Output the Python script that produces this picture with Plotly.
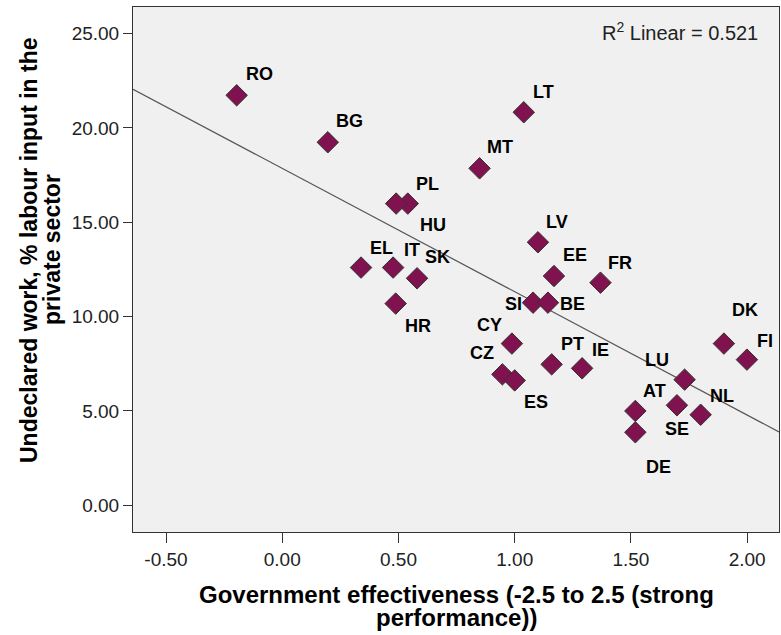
import numpy as np
import plotly.graph_objects as go

# ---- data ----
codes = ["RO", "BG", "LT", "MT", "PL", "HU", "EL", "IT", "SK", "HR", "LV", "EE", "SI", "BE",
         "CY", "FR", "CZ", "ES", "PT", "IE", "LU", "DK", "FI", "AT", "NL", "SE", "DE"]
gov_effectiveness = [-0.196, 0.196, 1.039, 0.849, 0.540, 0.490, 0.339, 0.477, 0.580, 0.488,
                     1.100, 1.169, 1.079, 1.143, 0.988, 1.369, 0.947, 1.000, 1.159, 1.290,
                     1.731, 1.900, 1.999, 1.519, 1.800, 1.698, 1.519]
undeclared_work = [21.73, 19.24, 20.83, 17.86, 15.99, 15.99, 12.60, 12.60, 12.03, 10.69,
                   13.94, 12.15, 10.74, 10.74, 8.57, 11.80, 6.94, 6.62, 7.47, 7.26,
                   6.66, 8.57, 7.72, 5.00, 4.80, 5.30, 3.87]
r2_text = "0.521"

x_tick_vals = [-0.5, 0.0, 0.5, 1.0, 1.5, 2.0]
x_tick_labels = ["-0.50", "0.00", "0.50", "1.00", "1.50", "2.00"]
y_tick_vals = [0, 5, 10, 15, 20, 25]
y_tick_labels = ["0.00", "5.00", "10.00", "15.00", "20.00", "25.00"]

# ---- styling / layout constants ----
X_RANGE = [-0.642, 2.137]
Y_RANGE = [-1.415, 26.41]
MARKER_FILL = "#80134F"
MARKER_LINE = "#333333"
PLOT_BG = "#F0F0F0"
FONT = "Liberation Sans, Arial, sans-serif"

# label offsets in pixels (dx right, dy down) relative to each point
label_offsets = {
    "RO": (23, -21), "BG": (22, -21), "LT": (20, -20), "MT": (20, -21),
    "PL": (20, -20), "HU": (37, 21), "EL": (20, -20), "IT": (19, -18),
    "SK": (20, -21), "HR": (22, 22), "LV": (19, -20), "EE": (21, -21),
    "SI": (-20, 1), "BE": (25, 1), "CY": (-22, -19), "FR": (20, -20),
    "CZ": (-20, -21), "ES": (21, 22), "PT": (21, -20), "IE": (18, -18),
    "LU": (-28, -20), "DK": (21, -34), "FI": (18, -19), "AT": (19, -20),
    "NL": (21, -19), "SE": (0, 24), "DE": (23, 35),
}

# linear fit
slope, intercept = np.polyfit(np.array(gov_effectiveness), np.array(undeclared_work), 1)
fit_x = np.array(X_RANGE)
fit_y = intercept + slope * fit_x

fig = go.Figure()
fig.add_trace(go.Scatter(
    x=fit_x, y=fit_y, mode="lines",
    line=dict(color="#555555", width=1.2), hoverinfo="skip", showlegend=False,
))
fig.add_trace(go.Scatter(
    x=gov_effectiveness, y=undeclared_work, mode="markers",
    marker=dict(symbol="diamond", size=16.5, color=MARKER_FILL,
                line=dict(color=MARKER_LINE, width=1)),
    text=codes, showlegend=False,
))

annotations = []
for c, xv, yv in zip(codes, gov_effectiveness, undeclared_work):
    dx, dy = label_offsets[c]
    annotations.append(dict(
        x=xv, y=yv, xref="x", yref="y", text="<b>" + c + "</b>", showarrow=False,
        xshift=dx, yshift=-dy, xanchor="center", yanchor="middle",
        font=dict(family=FONT, size=18, color="#000000"),
    ))

# R^2 text
annotations.append(dict(
    x=1, y=1, xref="paper", yref="paper", xanchor="right", yanchor="middle",
    xshift=-19, yshift=-24,
    text="R<sup>2</sup> Linear = " + r2_text, showarrow=False,
    font=dict(family=FONT, size=20, color="#222222"),
))

# axis titles (two lines each, tight spacing)
pw = 646.0
ph = 525.0
title_font_x = dict(family=FONT, size=24, color="#000000")
title_font_y = dict(family=FONT, size=23, color="#000000")
annotations.append(dict(
    x=0.5, y=(532 - 594) / ph, xref="paper", yref="paper", xanchor="center", yanchor="middle",
    text="<b>Government effectiveness (-2.5 to 2.5 (strong</b>", showarrow=False, font=title_font_x,
))
annotations.append(dict(
    x=0.5, y=(532 - 617) / ph, xref="paper", yref="paper", xanchor="center", yanchor="middle",
    text="<b>performance))</b>", showarrow=False, font=title_font_x,
))
annotations.append(dict(
    x=(29 - 133) / pw, y=(532 - 250) / ph, xref="paper", yref="paper", xanchor="center", yanchor="middle",
    text="<b>Undeclared work, % labour input in the</b>", showarrow=False, textangle=-90, font=title_font_y,
))
annotations.append(dict(
    x=(52 - 133) / pw, y=(532 - 250) / ph, xref="paper", yref="paper", xanchor="center", yanchor="middle",
    text="<b>private sector</b>", showarrow=False, textangle=-90, font=title_font_y,
))

fig.update_layout(
    width=781, height=635,
    margin=dict(l=133, r=2, t=7, b=103),
    paper_bgcolor="#FFFFFF", plot_bgcolor=PLOT_BG,
    font=dict(family=FONT),
    annotations=annotations,
    showlegend=False,
)
fig.update_xaxes(
    range=X_RANGE, tickvals=x_tick_vals, ticktext=x_tick_labels,
    showgrid=False, zeroline=False,
    showline=True, linecolor="#333333", linewidth=1, mirror=True,
    ticks="outside", ticklen=10, tickcolor="#333333", tickwidth=1,
    tickfont=dict(family=FONT, size=19, color="#222222"),
)
fig.update_yaxes(
    range=Y_RANGE, tickvals=y_tick_vals, ticktext=y_tick_labels,
    showgrid=False, zeroline=False,
    showline=True, linecolor="#333333", linewidth=1, mirror=True,
    ticks="outside", ticklen=9, tickcolor="#333333", tickwidth=1,
    tickfont=dict(family=FONT, size=19, color="#222222"),
)

fig.write_html(
    "out.html",
    config={"displayModeBar": False},
    post_script="document.body.style.margin='0';document.body.style.padding='0';document.body.style.overflow='hidden';",
)
